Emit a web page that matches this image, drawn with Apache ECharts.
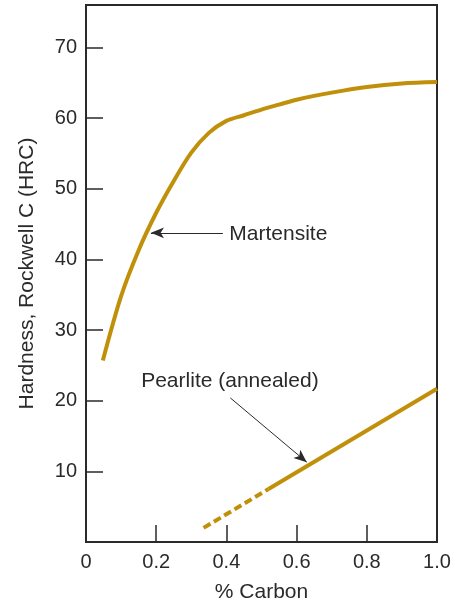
<!DOCTYPE html>
<html><head><meta charset="utf-8">
<script src="https://cdn.jsdelivr.net/npm/echarts@6/dist/echarts.min.js"></script>
<style>html,body{margin:0;padding:0;background:#fff}#c{width:454px;height:600px}</style>
</head><body><div id="c"></div>
<script>
// Martensite curve (% carbon, HRC)
const martensiteC   = [0.048, 0.10, 0.15, 0.20, 0.25, 0.30, 0.35, 0.40, 0.45, 0.50, 0.55, 0.60, 0.70, 0.80, 0.90, 1.00];
const martensiteHRC = [25.7, 34.8, 41.3, 46.6, 51.1, 55.1, 57.9, 59.6, 60.4, 61.2, 61.9, 62.6, 63.6, 64.4, 64.9, 65.1];
// Pearlite (annealed): dashed then solid part
const pearliteDashedC   = [0.335, 0.52];
const pearliteDashedHRC = [2.0, 7.5];
const pearliteSolidC    = [0.52, 1.0];
const pearliteSolidHRC  = [7.5, 21.7];
// Ticks
const xTickLabels = [0, 0.2, 0.4, 0.6, 0.8, 1.0];
const xTickMarks  = [0.2, 0.4, 0.6, 0.8];
const yTickLabels = [10, 20, 30, 40, 50, 60, 70];
// Annotations
const martensiteLabel = {text: 'Martensite', at: [0.548, 43.6], arrowFrom: [0.39, 43.75], arrowTo: [0.185, 43.75]};
const pearliteLabel = {text: 'Pearlite (annealed)', at: [0.41, 22.7], arrowFrom: [0.411, 20.4], arrowTo: [0.629, 11.3]};

const zip = (a, b) => a.map((v, i) => [v, b[i]]);
const gold = '#C1900A';
const ink = '#2a2a2a';
const font = 'Liberation Sans, Arial, Helvetica, sans-serif';

function annotation(a) {
  return {
    markLine: {
      silent: true, animation: false,
      symbol: ['none', 'arrow'], symbolSize: [8, 13],
      lineStyle: {color: ink, width: 1, type: 'solid'},
      label: {show: false},
      data: [[{coord: a.arrowFrom}, {coord: a.arrowTo}]]
    },
    markPoint: {
      silent: true, animation: false,
      symbol: 'circle', symbolSize: 1,
      itemStyle: {color: 'rgba(0,0,0,0)'},
      label: {show: true, position: 'inside', formatter: a.text, color: ink, fontSize: 21, fontFamily: font},
      data: [{coord: a.at}]
    }
  };
}

const chart = echarts.init(document.getElementById('c'), null, {renderer: 'canvas'});
chart.setOption({
  animation: false,
  grid: {left: 86, right: 17, top: 5, bottom: 58, outerBoundsMode: 'none', containLabel: false,
    show: true, borderColor: ink, borderWidth: 2, backgroundColor: 'transparent'},
  xAxis: {
    type: 'value', min: 0, max: 1, interval: 0.2,
    name: '% Carbon', nameLocation: 'middle', nameGap: 40,
    nameTextStyle: {color: ink, fontSize: 21, fontFamily: font},
    axisLine: {show: true, lineStyle: {color: ink, width: 2}},
    axisTick: {show: true, inside: true, length: 17, customValues: xTickMarks, lineStyle: {color: ink, width: 1.5}},
    axisLabel: {show: true, margin: 10, color: ink, fontSize: 20, fontFamily: font, customValues: xTickLabels,
      formatter: v => v === 0 ? '0' : v.toFixed(1)},
    splitLine: {show: false}
  },
  yAxis: {
    type: 'value', min: 0, max: 76, interval: 10,
    name: 'Hardness, Rockwell C (HRC)', nameLocation: 'middle', nameGap: 48,
    nameTextStyle: {color: ink, fontSize: 21, fontFamily: font},
    axisLine: {show: true, lineStyle: {color: ink, width: 2}},
    axisTick: {show: true, inside: true, length: 17, customValues: yTickLabels, lineStyle: {color: ink, width: 1.5}},
    axisLabel: {show: true, margin: 9, color: ink, fontSize: 20, fontFamily: font, customValues: yTickLabels},
    splitLine: {show: false}
  },
  series: [
    Object.assign({
      name: 'Martensite', type: 'line', data: zip(martensiteC, martensiteHRC),
      smooth: 0.3, showSymbol: false, lineStyle: {color: gold, width: 4}, z: 3
    }, annotation(martensiteLabel)),
    {
      name: 'Pearlite dashed', type: 'line', data: zip(pearliteDashedC, pearliteDashedHRC),
      showSymbol: false, lineStyle: {color: gold, width: 4, type: [8, 4], cap: 'butt'}, z: 3
    },
    Object.assign({
      name: 'Pearlite (annealed)', type: 'line', data: zip(pearliteSolidC, pearliteSolidHRC),
      showSymbol: false, lineStyle: {color: gold, width: 4}, z: 3
    }, annotation(pearliteLabel))
  ]
});
</script>
</body></html>
